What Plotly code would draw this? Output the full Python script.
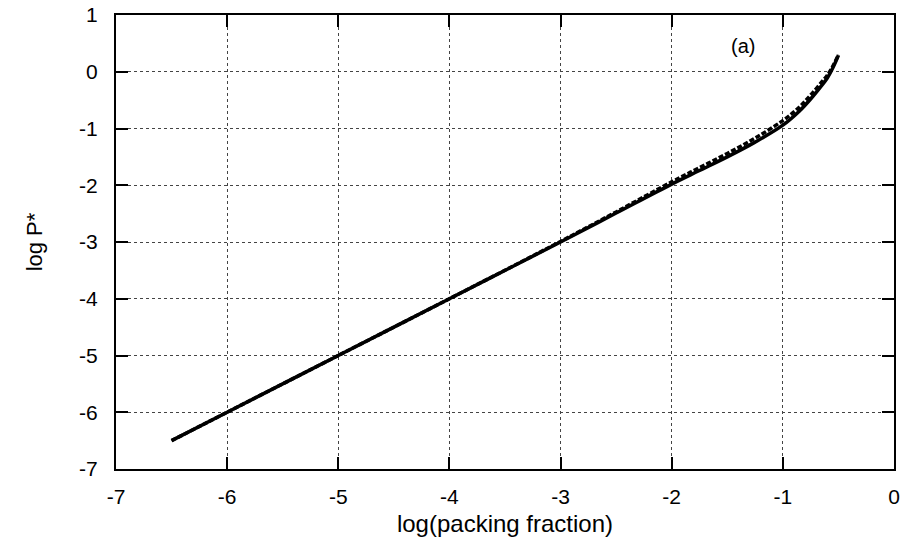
"""Hard-sphere pressure vs packing fraction, log-log panel (a)."""

import plotly.graph_objects as go

# log10 of packing fraction
LOG_ETA = [-6.5, -6.0, -5.0, -4.0, -3.0, -2.5, -2.0, -1.75, -1.5, -1.25, -1.0,
           -0.85, -0.75, -0.65, -0.6, -0.55, -0.5]
# solid curve: log P*
LOG_P_SOLID = [-6.5, -6.0, -5.0, -4.0, -3.0, -2.49, -1.98, -1.74, -1.5, -1.24,
               -0.94, -0.69, -0.48, -0.24, -0.11, 0.07, 0.29]
# dashed curve: log P*
LOG_P_DASHED = [-6.5, -6.0, -5.0, -4.0, -2.99, -2.47, -1.94, -1.69, -1.44, -1.17,
                -0.86, -0.62, -0.41, -0.18, -0.06, 0.1, 0.3]

X_TICKS = [-7, -6, -5, -4, -3, -2, -1, 0]
Y_TICKS = [1, 0, -1, -2, -3, -4, -5, -6, -7]

FONT = "Liberation Sans, Arial, sans-serif"

fig = go.Figure()
fig.add_trace(
    go.Scatter(
        x=LOG_ETA,
        y=LOG_P_DASHED,
        mode="lines",
        line={"color": "black", "width": 3.5, "dash": "5px,2px", "shape": "spline"},
        showlegend=False,
    )
)
fig.add_trace(
    go.Scatter(
        x=LOG_ETA,
        y=LOG_P_SOLID,
        mode="lines",
        line={"color": "black", "width": 3.5, "shape": "spline"},
        showlegend=False,
    )
)

fig.add_annotation(
    x=-1.36, y=0.45, text="(a)", showarrow=False,
    font={"size": 20, "color": "black", "family": FONT},
)

axis_common = dict(
    automargin=False,
    showline=True,
    linecolor="black",
    linewidth=2,
    mirror="ticks",
    ticks="inside",
    ticklen=12,
    tickwidth=1.5,
    tickcolor="black",
    showgrid=True,
    gridcolor="#444444",
    gridwidth=1,
    griddash="dot",
    zeroline=False,
    tickfont={"size": 21, "color": "black", "family": FONT},
)

fig.update_xaxes(
    range=[-7, 0],
    tickvals=X_TICKS,
    ticktext=[str(v) for v in X_TICKS],
    title_text="log(packing fraction)",
    title_font={"size": 24, "color": "black", "family": FONT},
    ticklabelstandoff=8,
    title_standoff=8,
    **axis_common,
)
fig.update_yaxes(
    range=[-7, 1],
    tickvals=Y_TICKS,
    ticktext=[str(v) for v in Y_TICKS],
    title_text="log P*",
    title_font={"size": 22, "color": "black", "family": FONT},
    ticklabelstandoff=12,
    title_standoff=30,
    **axis_common,
)

fig.update_layout(
    width=904,
    height=548,
    margin={"l": 116, "r": 10, "t": 15, "b": 79},
    paper_bgcolor="white",
    plot_bgcolor="white",
)

fig.write_html(
    "out.html",
    config={"displayModeBar": False},
    post_script="document.body.style.margin = '0';",
)
